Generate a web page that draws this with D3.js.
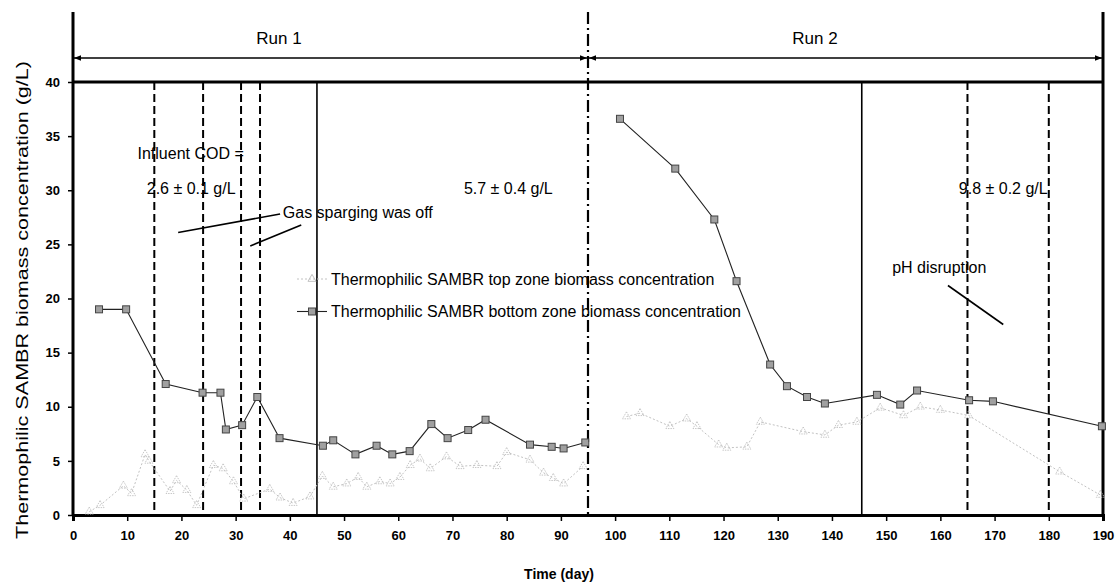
<!DOCTYPE html>
<html>
<head>
<meta charset="utf-8">
<script src="https://cdn.jsdelivr.net/npm/d3@7/dist/d3.min.js"></script>
<style>
  html, body { margin: 0; padding: 0; background: #fff; }
  svg { display: block; }
  text { font-family: "Liberation Sans", Arial, sans-serif; fill: #000; }
  .tick-label { font-family: "Liberation Sans Narrow", "Liberation Sans", Arial, sans-serif; font-size: 13px; font-weight: bold; }
</style>
</head>
<body>
<svg id="chart" width="1119" height="582"></svg>
<script>
// ---- data: days and biomass concentration (g/L) ----
const bottomRun1Days = [4.8, 9.8, 17.1, 23.9, 27.2, 28.2, 31.2, 34.0, 38.1, 46.1, 48.0, 52.1, 56.0, 58.9, 62.1, 66.1, 69.1, 72.9, 76.1, 84.3, 88.3, 90.5, 94.5];
const bottomRun1Vals = [19.0, 19.0, 12.1, 11.3, 11.3, 7.9, 8.3, 10.9, 7.1, 6.4, 6.9, 5.6, 6.4, 5.6, 5.9, 8.4, 7.1, 7.85, 8.8, 6.5, 6.3, 6.15, 6.7];
const bottomRun2Days = [100.9, 111.1, 118.3, 122.4, 128.6, 131.7, 135.4, 138.7, 148.3, 152.6, 155.7, 165.3, 169.7, 189.8];
const bottomRun2Vals = [36.6, 32.0, 27.3, 21.6, 13.9, 11.9, 10.9, 10.3, 11.1, 10.2, 11.5, 10.6, 10.5, 8.2];

const topRun1Days = [3.0, 5.0, 9.3, 10.8, 13.3, 14.0, 17.9, 19.1, 21.0, 22.8, 25.9, 27.7, 29.6, 31.5, 36.3, 38.2, 40.6, 43.7, 46.0, 48.0, 50.5, 52.6, 54.2, 56.6, 58.5, 60.3, 62.2, 64.0, 65.9, 68.9, 71.4, 74.5, 78.2, 80.0, 84.3, 86.8, 88.6, 90.5, 94.1];
const topRun1Vals = [0.3, 0.9, 2.7, 2.0, 5.6, 5.0, 2.2, 3.2, 2.3, 0.9, 4.6, 4.3, 3.1, 1.5, 2.4, 1.6, 1.1, 1.7, 3.6, 2.6, 2.9, 3.5, 2.6, 3.1, 2.9, 3.5, 4.6, 5.2, 4.3, 5.4, 4.5, 4.6, 4.5, 5.8, 5.1, 3.9, 3.4, 2.9, 4.5];
const topRun2Days = [102.1, 104.6, 110.1, 113.2, 115.1, 119.1, 120.6, 124.3, 126.8, 134.7, 138.7, 141.2, 144.6, 148.9, 153.2, 156.3, 160.0, 165.2, 182.0, 189.5];
const topRun2Vals = [9.1, 9.4, 8.2, 8.9, 8.2, 6.5, 6.2, 6.3, 8.6, 7.7, 7.4, 8.3, 8.6, 9.9, 9.2, 10.0, 9.7, 9.2, 4.0, 1.85];

// event markers (day of change)
const dashedDays = [15, 24, 31, 34.5, 165, 180];
const solidDays = [45, 145.5];
const runBoundaryDay = 95;

const xTicks = d3.range(0, 191, 10);
const yTicks = d3.range(0, 41, 5);

const legendLabels = [
  "Thermophilic SAMBR top zone biomass concentration",
  "Thermophilic SAMBR bottom zone biomass concentration"
];
const runLabels = ["Run 1", "Run 2"];

// ---- layout ----
const svg = d3.select("#chart");
const x = d3.scaleLinear().domain([0, 190]).range([73, 1103]);
const y = d3.scaleLinear().domain([0, 40]).range([515, 82]);
const topY = 12;       // top of frame above the plot
const arrowY = 58;     // run arrows row

const zip = (a, b) => a.map((d, i) => [d, b[i]]);

// arrow markers
const defs = svg.append("defs");
function arrowMarker(id, orient) {
  defs.append("marker")
    .attr("id", id).attr("viewBox", "0 0 10 10")
    .attr("refX", 10).attr("refY", 5)
    .attr("markerWidth", 7).attr("markerHeight", 7)
    .attr("markerUnits", "userSpaceOnUse")
    .attr("orient", orient)
    .append("path").attr("d", "M0,1 L10,5 L0,9 Z").attr("fill", "#000");
}
arrowMarker("arrEnd", "auto");
arrowMarker("arrStart", "auto-start-reverse");

// ---- vertical event lines ----
svg.append("g").selectAll("line").data(dashedDays).join("line")
  .attr("x1", d => x(d)).attr("x2", d => x(d))
  .attr("y1", y(40)).attr("y2", y(0))
  .attr("stroke", "#000").attr("stroke-width", 2)
  .attr("stroke-dasharray", "8,4");

svg.append("g").selectAll("line").data(solidDays).join("line")
  .attr("x1", d => x(d)).attr("x2", d => x(d))
  .attr("y1", y(40)).attr("y2", y(0))
  .attr("stroke", "#000").attr("stroke-width", 1.6);

svg.append("line")
  .attr("x1", x(runBoundaryDay)).attr("x2", x(runBoundaryDay))
  .attr("y1", topY).attr("y2", y(0))
  .attr("stroke", "#000").attr("stroke-width", 2.2)
  .attr("stroke-dasharray", "12,4,2,4");

// ---- frame ----
svg.append("line").attr("x1", x(0)).attr("x2", x(190)).attr("y1", y(40)).attr("y2", y(40))
  .attr("stroke", "#000").attr("stroke-width", 3);
svg.append("line").attr("x1", x(190)).attr("x2", x(190)).attr("y1", topY).attr("y2", y(0))
  .attr("stroke", "#000").attr("stroke-width", 3);

// ---- axes ----
const xAxis = svg.append("g").attr("transform", `translate(0,${y(0)})`)
  .call(d3.axisBottom(x).tickValues(xTicks).tickSize(6).tickPadding(10).tickFormat(d3.format("d")));
xAxis.select(".domain").attr("stroke-width", 3);
xAxis.selectAll(".tick line").attr("stroke-width", 1.5);
xAxis.selectAll(".tick text").attr("class", "tick-label").attr("fill", "#000");

const yAxis = svg.append("g").attr("transform", `translate(${x(0)},0)`)
  .call(d3.axisLeft(y).tickValues(yTicks).tickSize(5).tickPadding(8).tickFormat(d3.format("d")));
yAxis.select(".domain").remove();
yAxis.selectAll(".tick line").attr("stroke-width", 1.5);
yAxis.selectAll(".tick text").attr("class", "tick-label").attr("fill", "#000");
svg.append("line").attr("x1", x(0)).attr("x2", x(0)).attr("y1", topY).attr("y2", y(0))
  .attr("stroke", "#000").attr("stroke-width", 3);

// ---- run arrows ----
const runSpans = [[0, runBoundaryDay], [runBoundaryDay, 190]];
runSpans.forEach((s, i) => {
  svg.append("line")
    .attr("x1", x(s[0]) + 1).attr("x2", x(s[1]) - 1)
    .attr("y1", arrowY).attr("y2", arrowY)
    .attr("stroke", "#000").attr("stroke-width", 1.6)
    .attr("marker-start", "url(#arrStart)").attr("marker-end", "url(#arrEnd)");
  svg.append("text")
    .attr("x", i === 0 ? 279 : 815).attr("y", 38)
    .attr("dy", "0.35em").attr("text-anchor", "middle")
    .style("font-size", "17px").text(runLabels[i]);
});

// ---- series ----
const lineGen = d3.line().x(d => x(d[0])).y(d => y(d[1]));
const topColor = "#c2c2c2";

[zip(topRun1Days, topRun1Vals), zip(topRun2Days, topRun2Vals)].forEach(pts => {
  svg.append("path").datum(pts).attr("d", lineGen)
    .attr("fill", "none").attr("stroke", topColor).attr("stroke-width", 1)
    .attr("stroke-dasharray", "2,2");
  svg.append("g").selectAll("path").data(pts).join("path")
    .attr("transform", d => `translate(${x(d[0])},${y(d[1])})`)
    .attr("d", d3.symbol(d3.symbolTriangle, 28))
    .attr("fill", "none").attr("stroke", topColor).attr("stroke-width", 0.9)
    .attr("stroke-dasharray", "1.5,1");
});

function squareMarkers(g, pts) {
  g.selectAll("rect").data(pts).join("rect")
    .attr("x", d => x(d[0]) - 3.5).attr("y", d => y(d[1]) - 3.5)
    .attr("width", 7).attr("height", 7)
    .attr("fill", "#a0a0a0").attr("stroke", "#444").attr("stroke-width", 1);
}
[zip(bottomRun1Days, bottomRun1Vals), zip(bottomRun2Days, bottomRun2Vals)].forEach(pts => {
  svg.append("path").datum(pts).attr("d", lineGen)
    .attr("fill", "none").attr("stroke", "#222").attr("stroke-width", 1.1);
  squareMarkers(svg.append("g"), pts);
});

// ---- legend ----
const legX = 297, legTextX = 331;
const legRows = [y(21.8), y(18.8)];
svg.append("line").attr("x1", legX).attr("x2", legX + 30).attr("y1", legRows[0]).attr("y2", legRows[0])
  .attr("stroke", topColor).attr("stroke-dasharray", "2,2");
svg.append("path").attr("transform", `translate(${legX + 15},${legRows[0]})`)
  .attr("d", d3.symbol(d3.symbolTriangle, 28)).attr("fill", "none").attr("stroke", topColor);
svg.append("line").attr("x1", legX).attr("x2", legX + 30).attr("y1", legRows[1]).attr("y2", legRows[1])
  .attr("stroke", "#222").attr("stroke-width", 1.1);
svg.append("rect").attr("x", legX + 11.5).attr("y", legRows[1] - 3.5).attr("width", 7).attr("height", 7)
  .attr("fill", "#a0a0a0").attr("stroke", "#444");
legendLabels.forEach((t, i) => {
  svg.append("text").attr("x", legTextX).attr("y", legRows[i]).attr("dy", "0.35em")
    .style("font-size", "16px").text(t);
});

// ---- annotations ----
const notes = [
  { t: "Influent COD =", day: 21.7, v: 33.4, anchor: "middle" },
  { t: "2.6 ± 0.1 g/L", day: 21.8, v: 30.2, anchor: "middle" },
  { t: "5.7 ± 0.4 g/L", day: 80.3, v: 30.2, anchor: "middle" },
  { t: "9.8 ± 0.2 g/L", day: 171.6, v: 30.2, anchor: "middle" },
  { t: "Gas sparging was off", day: 38.7, v: 28.0, anchor: "start" },
  { t: "pH disruption", day: 159.8, v: 22.9, anchor: "middle" }
];
svg.append("g").selectAll("text").data(notes).join("text")
  .attr("x", d => x(d.day)).attr("y", d => y(d.v)).attr("dy", "0.35em")
  .attr("text-anchor", d => d.anchor)
  .style("font-size", "16px").text(d => d.t);

const pointers = [
  [[19.4, 26.1], [38.2, 27.8]],
  [[32.7, 24.85], [42.1, 26.8]],
  [[161.4, 21.2], [171.6, 17.6]]
];
svg.append("g").selectAll("path").data(pointers).join("path")
  .attr("d", lineGen).attr("fill", "none").attr("stroke", "#000").attr("stroke-width", 1.6);

// ---- axis titles ----
svg.append("text").attr("x", 559).attr("y", 574).attr("text-anchor", "middle")
  .attr("dy", "0.35em")
  .style("font-family", "'Liberation Sans Narrow', 'Liberation Sans', Arial, sans-serif")
  .style("font-size", "14px").style("font-weight", "bold")
  .text("Time (day)");

svg.append("text")
  .attr("transform", "translate(22,300) rotate(-90)")
  .attr("text-anchor", "middle").attr("dy", "0.35em")
  .attr("textLength", 478).attr("lengthAdjust", "spacingAndGlyphs")
  .style("font-size", "17px")
  .text("Thermophilic SAMBR biomass concentration (g/L)");
</script>
</body>
</html>
